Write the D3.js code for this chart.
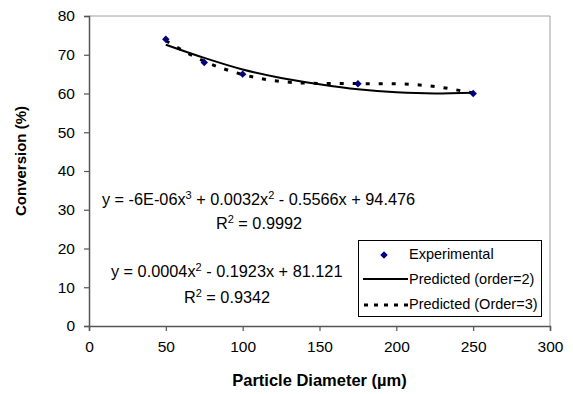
<!DOCTYPE html>
<html>
<head>
<meta charset="utf-8">
<script src="https://cdn.jsdelivr.net/npm/d3@7"></script>
<style>
  body { margin: 0; background: #fff; }
  text { font-family: "Liberation Sans", Arial, sans-serif; fill: #000; }
</style>
</head>
<body>
<div id="chart"></div>
<script>
// experimental points
const diameters = [50, 75, 100, 175, 250];
const conversions = [74, 68, 65, 62.5, 60];

// trendlines
const fitX = [50, 75, 100, 125, 150, 175, 200, 225, 250];
const fitOrder2 = [72.6, 69.2, 66.2, 64.0, 62.4, 61.1, 60.3, 60.0, 60.2];
const fitOrder3 = [73.6, 68.3, 64.9, 63.1, 62.6, 62.55, 62.5, 61.8, 60.1];

const xTicks = [0, 50, 100, 150, 200, 250, 300];
const yTicks = [0, 10, 20, 30, 40, 50, 60, 70, 80];

const legendLabels = ["Experimental", "Predicted (order=2)", "Predicted (Order=3)"];

const W = 573, H = 394;
const margin = { top: 16, right: 23, bottom: 68, left: 89 },
      width = W - margin.left - margin.right,
      height = H - margin.top - margin.bottom;

const svg = d3.select("#chart")
  .append("svg")
  .attr("width", W)
  .attr("height", H);

const g = svg.append("g")
  .attr("transform", `translate(${margin.left},${margin.top})`);

const x = d3.scaleLinear().domain([0, 300]).range([0, width]);
const y = d3.scaleLinear().domain([0, 80]).range([height, 0]);

// =========================
// FRAME
// =========================
g.append("line")
  .attr("x1", 0).attr("x2", width).attr("y1", 0).attr("y2", 0)
  .attr("stroke", "#a0a0a0");
g.append("line")
  .attr("x1", width).attr("x2", width).attr("y1", 0).attr("y2", height)
  .attr("stroke", "#a0a0a0");

// =========================
// AXES
// =========================
const xAxis = g.append("g")
  .attr("transform", `translate(0,${height})`)
  .call(d3.axisBottom(x).tickValues(xTicks).tickSize(5).tickPadding(10));

const yAxis = g.append("g")
  .call(d3.axisLeft(y).tickValues(yTicks).tickSize(5).tickPadding(9));

[xAxis, yAxis].forEach(a => {
  a.select(".domain").attr("stroke", "#555").attr("stroke-width", 1.5);
  a.selectAll(".tick line").attr("stroke", "#555").attr("stroke-width", 1.2);
  a.selectAll("text")
    .style("font-family", "'Liberation Sans', Arial, sans-serif")
    .style("font-size", "15.5px")
    .attr("fill", "#000");
});

// =========================
// TRENDLINES
// =========================
const fitLine = d3.line()
  .x(d => x(d[0]))
  .y(d => y(d[1]))
  .curve(d3.curveMonotoneX);

g.append("path")
  .datum(fitX.map((v, i) => [v, fitOrder3[i]]))
  .attr("d", fitLine)
  .attr("fill", "none")
  .attr("stroke", "#000")
  .attr("stroke-width", 3)
  .attr("stroke-dasharray", "4,9");

g.append("path")
  .datum(fitX.map((v, i) => [v, fitOrder2[i]]))
  .attr("d", fitLine)
  .attr("fill", "none")
  .attr("stroke", "#000")
  .attr("stroke-width", 2);

// =========================
// POINTS
// =========================
const marker = d3.symbol().type(d3.symbolSquare).size(28);

g.selectAll(".pt")
  .data(diameters.map((v, i) => [v, conversions[i]]))
  .join("path")
  .attr("class", "pt")
  .attr("d", marker)
  .attr("transform", d => `translate(${x(d[0])},${y(d[1])}) rotate(45)`)
  .attr("fill", "#000080");

// =========================
// EQUATIONS
// =========================
// parts: plain strings, or [exponent] arrays for superscripts
function equation(parent, cx, cy, parts) {
  const t = parent.append("text")
    .attr("x", cx).attr("y", cy)
    .attr("text-anchor", "middle")
    .style("font-size", "16.3px");
  let raised = false;
  parts.forEach(p => {
    if (Array.isArray(p)) {
      t.append("tspan").attr("dy", -6).style("font-size", "11px").text(p[0]);
      raised = true;
    } else {
      t.append("tspan").attr("dy", raised ? 6 : null).text(p);
      raised = false;
    }
  });
}

equation(svg, 258.5, 205, ["y = -6E-06x", ["3"], " + 0.0032x", ["2"], " - 0.5566x + 94.476"]);
equation(svg, 259, 228.5, ["R", ["2"], " = 0.9992"]);
equation(svg, 226.7, 276.5, ["y = 0.0004x", ["2"], " - 0.1923x + 81.121"]);
equation(svg, 227, 302.5, ["R", ["2"], " = 0.9342"]);

// =========================
// AXIS TITLES
// =========================
svg.append("text")
  .attr("x", margin.left + width / 2)
  .attr("y", 385.5)
  .attr("text-anchor", "middle")
  .style("font-size", "16.5px")
  .style("font-weight", "bold")
  .text("Particle Diameter (µm)");

svg.append("text")
  .attr("transform", "translate(25.5,161) rotate(-90)")
  .attr("text-anchor", "middle")
  .style("font-size", "15px")
  .style("font-weight", "bold")
  .text("Conversion (%)");

// =========================
// LEGEND
// =========================
const legend = svg.append("g").attr("transform", "translate(358,240)");

legend.append("rect")
  .attr("x", 0.5).attr("y", 0.5)
  .attr("width", 183).attr("height", 76)
  .attr("fill", "#fff")
  .attr("stroke", "#000");

legend.append("path")
  .attr("d", marker)
  .attr("transform", "translate(26,15) rotate(45)")
  .attr("fill", "#000080");

legend.append("line")
  .attr("x1", 5).attr("x2", 50).attr("y1", 39).attr("y2", 39)
  .attr("stroke", "#000").attr("stroke-width", 2);

legend.append("line")
  .attr("x1", 6).attr("x2", 51).attr("y1", 65).attr("y2", 65)
  .attr("stroke", "#000").attr("stroke-width", 3)
  .attr("stroke-dasharray", "4,6");

legend.selectAll(".lab")
  .data(legendLabels)
  .join("text")
  .attr("class", "lab")
  .attr("x", 51)
  .attr("y", (d, i) => 19 + i * 25)
  .style("font-size", "14.5px")
  .text(d => d);
</script>
</body>
</html>
